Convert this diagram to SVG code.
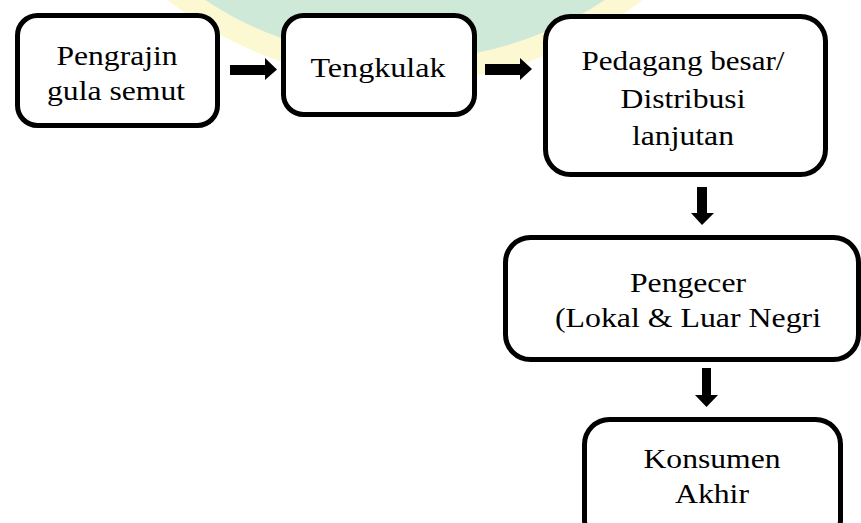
<svg xmlns="http://www.w3.org/2000/svg" width="861" height="523" viewBox="0 0 861 523">
<defs>
<style>
.box{fill:#fff;stroke:#000;stroke-width:5}
.t{font-family:'Liberation Serif','DejaVu Serif',serif;font-size:28px;fill:#000;text-anchor:middle}
.arr{fill:#000}
</style>
</defs>
<rect width="861" height="523" fill="#fff"/>
<g id="watermark">
<circle cx="405" cy="-303" r="385" fill="#fcf9d2"/>
<circle cx="405" cy="-303" r="363" fill="#cfe9d9"/>
</g>
<g id="connectors">
<polygon class="arr" points="230,65 265,65 265,58 277,69.5 265,80 265,75 230,75"/>
<polygon class="arr" points="485,64 520,64 520,58 532,69 520,80 520,75 485,75"/>
<polygon class="arr" points="697,187 707,187 707,213 714,213 702,225 691,213 697,213"/>
<polygon class="arr" points="702,368 711,368 711,395 718,395 706.5,407 695,395 702,395"/>
</g>
<g id="n1">
<rect class="box" x="17.5" y="15.5" width="200" height="110" rx="20"/>
<text class="t" x="117" y="65" textLength="121" lengthAdjust="spacingAndGlyphs">Pengrajin</text>
<text class="t" x="116" y="100" textLength="138" lengthAdjust="spacingAndGlyphs">gula semut</text>
</g>
<g id="n2">
<rect class="box" x="283.5" y="15.5" width="191" height="99" rx="20"/>
<text class="t" x="378" y="77" textLength="135" lengthAdjust="spacingAndGlyphs">Tengkulak</text>
</g>
<g id="n3">
<rect class="box" x="545.5" y="16.5" width="280" height="158" rx="25"/>
<text class="t" x="683" y="70" textLength="203" lengthAdjust="spacingAndGlyphs">Pedagang besar/</text>
<text class="t" x="683" y="108" textLength="125" lengthAdjust="spacingAndGlyphs">Distribusi</text>
<text class="t" x="683" y="145" textLength="102" lengthAdjust="spacingAndGlyphs">lanjutan</text>
</g>
<g id="n4">
<rect class="box" x="505.5" y="237.5" width="353" height="122" rx="25"/>
<text class="t" x="688" y="292" textLength="116" lengthAdjust="spacingAndGlyphs">Pengecer</text>
<text class="t" x="688" y="327" textLength="266" lengthAdjust="spacingAndGlyphs">(Lokal &amp; Luar Negri</text>
</g>
<g id="n5">
<rect class="box" x="584.5" y="419.5" width="256" height="125" rx="25"/>
<text class="t" x="712" y="468" textLength="137" lengthAdjust="spacingAndGlyphs">Konsumen</text>
<text class="t" x="712" y="503" textLength="74" lengthAdjust="spacingAndGlyphs">Akhir</text>
</g>
</svg>
